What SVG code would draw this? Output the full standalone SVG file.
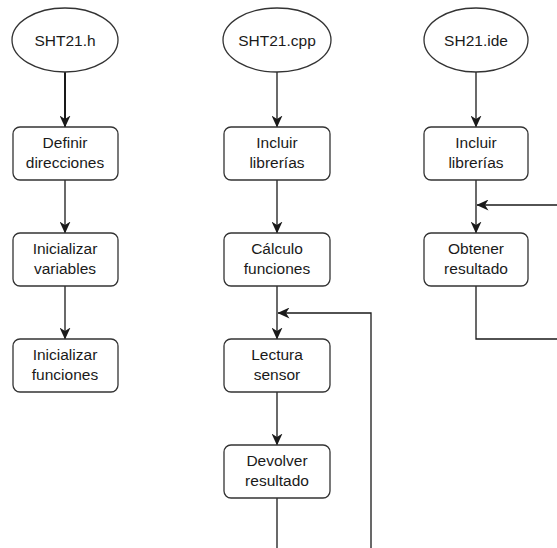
<svg xmlns="http://www.w3.org/2000/svg" width="557" height="548" viewBox="0 0 557 548">
<defs>
<style>
.n{fill:#fff;stroke:#333;stroke-width:1.3}
.t{font-family:"Liberation Sans",Arial,sans-serif;font-size:15.5px;fill:#1a1a1a;text-anchor:middle}
.c{fill:none;stroke:#1a1a1a;stroke-width:1.3}
</style>
<marker id="a" viewBox="0 0 12 11" refX="11.5" refY="5.5" markerWidth="12" markerHeight="11" markerUnits="userSpaceOnUse" orient="auto">
<path d="M0,0 L12,5.5 L0,11 L3.5,5.5 Z" fill="#1a1a1a"/>
</marker>
</defs>
<rect width="557" height="548" fill="#fff"/>
<g id="connectors">
<path class="c" d="M65,72 V127" style="stroke-width:2" marker-end="url(#a)"/>
<path class="c" d="M65,180 V233" marker-end="url(#a)"/>
<path class="c" d="M65,286 V339" marker-end="url(#a)"/>
<path class="c" d="M277,72 V127" marker-end="url(#a)"/>
<path class="c" d="M277,180 V233" marker-end="url(#a)"/>
<path class="c" d="M277,286 V339" marker-end="url(#a)"/>
<path class="c" d="M277,392 V445" marker-end="url(#a)"/>
<path class="c" d="M277,498 V548"/>
<path class="c" d="M371,548 V313 H278" marker-end="url(#a)"/>
<path class="c" d="M476,72 V127" marker-end="url(#a)"/>
<path class="c" d="M476,180 V233" marker-end="url(#a)"/>
<path class="c" d="M557,205 H477" marker-end="url(#a)"/>
<path class="c" d="M476,286 V339 H557"/>
</g>
<g id="sht21h"><ellipse class="n" cx="65" cy="40" rx="53" ry="32"/><text class="t" x="65" y="46">SHT21.h</text></g>
<g id="definir"><rect class="n" x="13" y="127" width="105" height="53" rx="7"/><text class="t" x="65" y="148">Definir</text><text class="t" x="65" y="168">direcciones</text></g>
<g id="initvars"><rect class="n" x="13" y="233" width="105" height="53" rx="7"/><text class="t" x="65" y="254">Inicializar</text><text class="t" x="65" y="274">variables</text></g>
<g id="initfuncs"><rect class="n" x="13" y="339" width="105" height="53" rx="7"/><text class="t" x="65" y="360">Inicializar</text><text class="t" x="65" y="380">funciones</text></g>
<g id="sht21cpp"><ellipse class="n" cx="277" cy="40" rx="54" ry="32"/><text class="t" x="277" y="46">SHT21.cpp</text></g>
<g id="incluir1"><rect class="n" x="224" y="127" width="106" height="53" rx="7"/><text class="t" x="277" y="148">Incluir</text><text class="t" x="277" y="168">librerías</text></g>
<g id="calculo"><rect class="n" x="224" y="233" width="106" height="53" rx="7"/><text class="t" x="277" y="254">Cálculo</text><text class="t" x="277" y="274">funciones</text></g>
<g id="lectura"><rect class="n" x="224" y="339" width="106" height="53" rx="7"/><text class="t" x="277" y="360">Lectura</text><text class="t" x="277" y="380">sensor</text></g>
<g id="devolver"><rect class="n" x="224" y="445" width="106" height="53" rx="7"/><text class="t" x="277" y="466">Devolver</text><text class="t" x="277" y="486">resultado</text></g>
<g id="sh21ide"><ellipse class="n" cx="476" cy="40" rx="52" ry="32"/><text class="t" x="476" y="46">SH21.ide</text></g>
<g id="incluir2"><rect class="n" x="424" y="127" width="104" height="53" rx="7"/><text class="t" x="476" y="148">Incluir</text><text class="t" x="476" y="168">librerías</text></g>
<g id="obtener"><rect class="n" x="424" y="233" width="104" height="53" rx="7"/><text class="t" x="476" y="254">Obtener</text><text class="t" x="476" y="274">resultado</text></g>
</svg>
